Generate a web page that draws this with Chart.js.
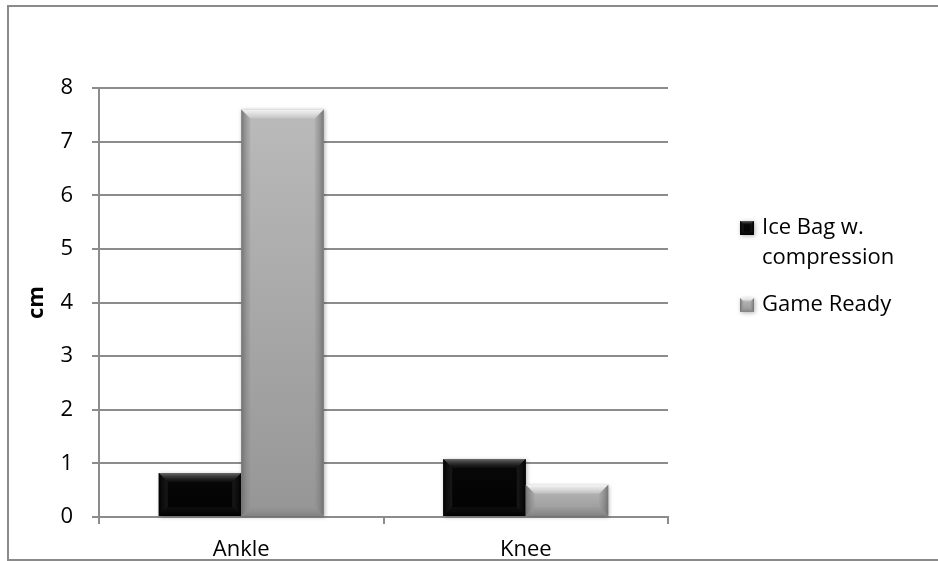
<!DOCTYPE html>
<html>
<head>
<meta charset="utf-8">
<script src="https://cdn.jsdelivr.net/npm/chart.js@4.4.1/dist/chart.umd.min.js"></script>
<style>
  html, body { margin: 0; background: #fff; overflow: hidden; }
  #wrap { position: relative; width: 938px; height: 561px; overflow: hidden; }
  #frame {
    position: absolute; left: 7px; top: 5px; width: 1000px; height: 552px;
    border-left: 2px solid #8a8a8a; border-top: 2px solid #8a8a8a; border-bottom: 2px solid #8a8a8a;
  }
  canvas { position: absolute; left: 0; top: 0; }
</style>
</head>
<body>
<div id="wrap">
  <div id="frame"></div>
  <canvas id="c" width="938" height="561"></canvas>
</div>
<script>
const categories = ["Ankle", "Knee"];
const iceBag = [0.82, 1.08];
const gameReady = [7.6, 0.6];
const seriesNames = ["Ice Bag w. compression", "Game Ready"];
const legendLines = [["Ice Bag w.", "compression"], ["Game Ready"]];
const yTicks = [0, 1, 2, 3, 4, 5, 6, 7, 8];

const FONT = "'Open Sans', sans-serif";
const GRID = "#8c8c8c";

// per series: body gradient, bevel colours (outer edge -> inner)
const looks = [
  { top: "#080808", bottom: "#020202",
    hi: ["rgba(120,120,120,0.85)", "rgba(40,40,40,0.2)"],
    side: ["rgba(0,0,0,0.9)", "rgba(35,35,35,0.6)"],
    low: ["rgba(0,0,0,0.8)", "rgba(25,25,25,0.4)"] },
  { top: "#bababa", bottom: "#969696",
    hi: ["rgba(250,250,250,0.9)", "rgba(255,255,255,0.15)"],
    side: ["rgba(105,105,105,0.85)", "rgba(140,140,140,0.2)"],
    low: ["rgba(120,120,120,0.7)", "rgba(140,140,140,0.15)"] }
];

function drawBevelBar(ctx, x0, y0, x1, y1, look) {
  const b = Math.min(9, (x1 - x0) / 4, (y1 - y0) / 3);
  ctx.save();
  ctx.shadowColor = "rgba(0,0,0,0.3)";
  ctx.shadowBlur = 4;
  ctx.shadowOffsetX = 1;
  ctx.shadowOffsetY = 1;
  const g = ctx.createLinearGradient(0, y0, 0, y1);
  g.addColorStop(0, look.top);
  g.addColorStop(1, look.bottom);
  ctx.fillStyle = g;
  ctx.fillRect(x0, y0, x1 - x0, y1 - y0);
  ctx.restore();

  const poly = (pts, col) => {
    ctx.beginPath();
    ctx.moveTo(pts[0][0], pts[0][1]);
    for (let i = 1; i < pts.length; i++) ctx.lineTo(pts[i][0], pts[i][1]);
    ctx.closePath();
    ctx.fillStyle = col;
    ctx.fill();
  };
  const grad = (ax, ay, bx, by, cols) => {
    const gg = ctx.createLinearGradient(ax, ay, bx, by);
    gg.addColorStop(0, cols[0]);
    gg.addColorStop(1, cols[1]);
    return gg;
  };
  poly([[x0, y0], [x1, y0], [x1 - b, y0 + b], [x0 + b, y0 + b]], grad(0, y0, 0, y0 + b, look.hi));
  poly([[x0, y0], [x0 + b, y0 + b], [x0 + b, y1 - b], [x0, y1]], grad(x0, 0, x0 + b, 0, look.side));
  poly([[x1, y0], [x1, y1], [x1 - b, y1 - b], [x1 - b, y0 + b]], grad(x1, 0, x1 - b, 0, look.side));
  poly([[x0, y1], [x0 + b, y1 - b], [x1 - b, y1 - b], [x1, y1]], grad(0, y1, 0, y1 - b, look.low));
}

const bevelBars = {
  id: "bevelBars",
  afterDatasetsDraw(chart) {
    const ctx = chart.ctx;
    chart.data.datasets.forEach((ds, i) => {
      const meta = chart.getDatasetMeta(i);
      meta.data.forEach(bar => {
        const x0 = bar.x - bar.width / 2, x1 = bar.x + bar.width / 2;
        drawBevelBar(ctx, x0, bar.y, x1, bar.base, looks[i]);
      });
    });
  }
};

const sideLegend = {
  id: "sideLegend",
  afterDraw(chart) {
    const ctx = chart.ctx;
    const area = chart.chartArea;
    const bx = area.right + 72;
    const tx = bx + 22;
    let y = 228;
    ctx.save();
    ctx.font = "22px " + FONT;
    ctx.textBaseline = "middle";
    legendLines.forEach((lines, i) => {
      drawBevelBar(ctx, bx, y - 7, bx + 14, y + 7, looks[i]);
      ctx.fillStyle = "#000";
      lines.forEach((t, k) => ctx.fillText(t, tx, y + k * 30));
      y += (lines.length - 1) * 30 + 47;
    });
    ctx.restore();
  }
};

new Chart(document.getElementById("c"), {
  type: "bar",
  data: {
    labels: categories,
    datasets: [
      { label: seriesNames[0], data: iceBag, backgroundColor: "rgba(0,0,0,0)" },
      { label: seriesNames[1], data: gameReady, backgroundColor: "rgba(0,0,0,0)" }
    ]
  },
  options: {
    responsive: false,
    animation: false,
    layout: { padding: { left: 0, top: 88, right: 270, bottom: 0 } },
    datasets: { bar: { categoryPercentage: 0.58, barPercentage: 1.0 } },
    plugins: { legend: { display: false }, tooltip: { enabled: false } },
    scales: {
      x: {
        afterFit(s) { s.height = 44; },
        grid: { offset: true, drawOnChartArea: false, drawTicks: true, tickLength: 7, color: GRID, lineWidth: 2 },
        border: { color: GRID, width: 2 },
        ticks: { color: "#000", font: { family: FONT, size: 22 }, padding: 13 }
      },
      y: {
        min: 0,
        max: 8,
        afterFit(s) { s.width = 99; },
        afterBuildTicks(s) { s.ticks = yTicks.map(v => ({ value: v })); },
        grid: { color: GRID, lineWidth: 2, tickLength: 7 },
        border: { color: GRID, width: 2 },
        ticks: { color: "#000", font: { family: FONT, size: 22 }, padding: 19 },
        title: { display: true, text: "cm", color: "#000", font: { family: FONT, size: 22, weight: "bold" }, padding: { top: 24, bottom: 0 } }
      }
    }
  },
  plugins: [bevelBars, sideLegend]
});
</script>
</body>
</html>
